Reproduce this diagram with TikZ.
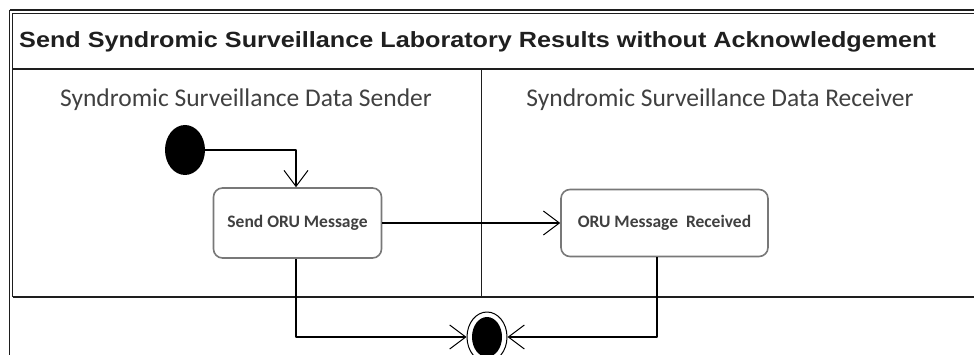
\documentclass[tikz,border=0pt]{standalone}
\usepackage{fontspec}
\setmainfont{Carlito}
\newfontfamily\titlefont{Liberation Sans}
\usepackage{graphicx}
\usepackage{tikz}
\usetikzlibrary{arrows.meta,calc,shapes.geometric}
\usepackage{xcolor}
\definecolor{boxgray}{RGB}{120,120,120}
\definecolor{textgray}{RGB}{64,64,64}
\definecolor{rulegray}{RGB}{30,30,30}

\begin{document}
\begin{tikzpicture}[x=1pt,y=-1pt,line join=round,
  actbox/.style={draw=boxgray,line width=1.6pt,rounded corners=9pt,fill=white,
    font=\fontsize{17.5}{20}\selectfont\bfseries,text=textgray},
  flow/.style={line width=1.2pt,-{Straight Barb[length=16pt,width=24pt,line width=1pt]}}]
\useasboundingbox (0,0) rectangle (974,355);
\clip (0,0) rectangle (974,355);
% frame and swimlanes
\draw[rulegray,line width=1.6pt] (9.5,10) -- (990,10);
\draw[rulegray,line width=1.6pt] (9.5,10) -- (9.5,360);
\draw[rulegray,line width=1.2pt] (12.5,297) -- (12.5,13.5) -- (990,13.5);
\draw[rulegray,line width=1.8pt] (12.5,69) -- (990,69);
\draw[rulegray,line width=2.2pt] (12.5,297) -- (990,297);
\draw[rulegray,line width=1.6pt] (481.5,69) -- (481.5,297);
\node[font=\titlefont\fontsize{22}{24}\selectfont\bfseries,anchor=west,inner sep=0pt,text=black!88] (title) at (19,42)
  {\scalebox{1.145}[1]{Send Syndromic Surveillance Laboratory Results without Acknowledgement}};
\node[font=\fontsize{25.5}{28}\selectfont,text=textgray] (sender) at (246,100) {Syndromic Surveillance Data Sender};
\node[font=\fontsize{25.5}{28}\selectfont,text=textgray] (receiver) at (720,100) {Syndromic Surveillance Data Receiver};
% activities
\node[ellipse,fill=black,minimum width=40pt,minimum height=50pt,inner sep=0pt] (init) at (185,150) {};
\node[actbox,minimum width=168pt,minimum height=70pt] (send) at (297.5,223) {Send ORU Message};
\node[actbox,minimum width=207pt,minimum height=67pt] (recv) at (664.5,223) {ORU Message\ \ Received};
\node[ellipse,draw=black,line width=1pt,fill=white,minimum width=40pt,minimum height=50pt,inner sep=0pt] (final) at (487,337) {};
\node[ellipse,fill=black,minimum width=30pt,minimum height=40pt,inner sep=0pt] (finaldot) at (final) {};
% ports on the boxes
\coordinate (sendin) at (send.north -| 296,0);
\coordinate (sendout) at (send.south -| 296,0);
\coordinate (recvout) at (recv.south -| 657,0);
% control flows
\draw[flow] (init.east) -| (sendin);
\draw[flow] (send.east) -- (recv.west);
\draw[flow] (sendout) |- (final.west);
\draw[flow] (recvout) |- (final.east);
\end{tikzpicture}
\end{document}
